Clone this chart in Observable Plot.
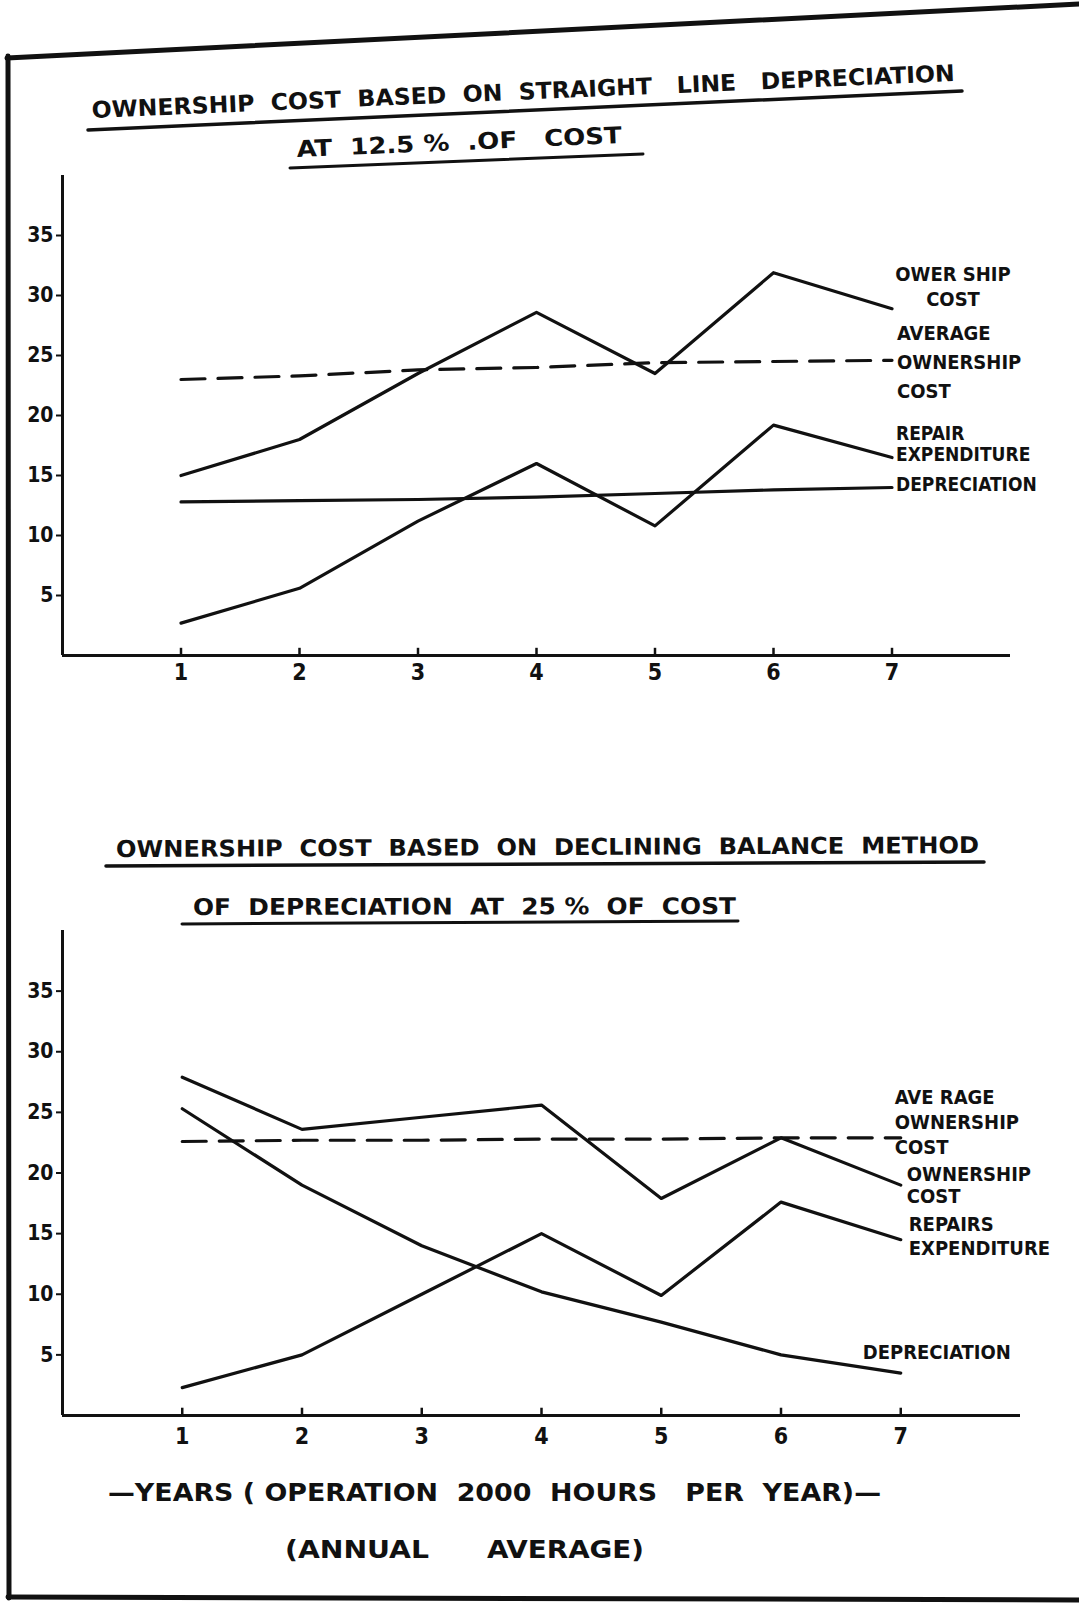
<!DOCTYPE html>
<html><head><meta charset="utf-8">
<script src="https://cdn.jsdelivr.net/npm/d3@7"></script>
<script src="https://cdn.jsdelivr.net/npm/@observablehq/plot@0.6"></script>
<style>
html,body{margin:0;padding:0;background:#fff;}
#page{position:relative;width:1079px;height:1607px;overflow:hidden;background:#fff;}
.plot{position:absolute;left:0;}
#deco{position:absolute;left:0;top:0;}
</style></head><body><div id="page"></div>
<script>
// ---------- data ----------
const years = [1, 2, 3, 4, 5, 6, 7];
const xTicks = [1, 2, 3, 4, 5, 6, 7];
const yTicks = [5, 10, 15, 20, 25, 30, 35];

// Straight line depreciation at 12.5 % of cost
const slOwnership    = [15.0, 18.0, 23.5, 28.6, 23.5, 31.9, 28.9];
const slAverage      = [23.0, 23.3, 23.8, 24.0, 24.4, 24.5, 24.6];
const slRepair       = [2.7, 5.6, 11.2, 16.0, 10.8, 19.2, 16.5];
const slDepreciation = [12.8, 12.9, 13.0, 13.2, 13.5, 13.8, 14.0];

// Declining balance method at 25 % of cost
const dbOwnership    = [27.9, 23.6, 24.6, 25.6, 17.9, 22.9, 19.0];
const dbAverage      = [22.6, 22.7, 22.7, 22.8, 22.8, 22.9, 22.9];
const dbRepairs      = [2.3, 5.0, 10.0, 15.0, 9.9, 17.6, 14.5];
const dbDepreciation = [25.3, 19.0, 14.0, 10.2, 7.7, 5.0, 3.5];

// texts
const title1a = "OWNERSHIP  COST  BASED  ON  STRAIGHT   LINE   DEPRECIATION";
const title1b = "AT  12.5 %  .OF   COST";
const title2a = "OWNERSHIP  COST  BASED  ON  DECLINING  BALANCE  METHOD";
const title2b = "OF  DEPRECIATION  AT  25 %  OF  COST";
const footer1 = "—YEARS ( OPERATION  2000  HOURS   PER  YEAR)—";
const footer2a = "(ANNUAL";
const footer2b = "AVERAGE)";

const rows = vals => years.map((year, i) => ({year, value: vals[i]}));
const last = vals => rows(vals).slice(-1);

const FONT = "'DejaVu Sans Condensed','DejaVu Sans',sans-serif";
const INK = "#111";

function label(vals, txt, o) {
  return Plot.text(last(vals), {
    x: "year", y: "value", text: () => txt,
    fill: INK, fontSize: 20, fontWeight: "bold",
    lineAnchor: "middle", ...o
  });
}

function chart({series, labels, marginTop, marginRight, tickPadding}) {
  return Plot.plot({
    width: 1079, height: 700,
    marginLeft: 62, marginRight, marginTop, marginBottom: 45,
    x: {domain: [0, 8], label: null},
    y: {domain: [0, 40], label: null},
    style: {fontFamily: FONT, fontWeight: "bold", color: INK, background: "transparent", overflow: "visible"},
    marks: [
      Plot.ruleY([0], {stroke: INK, strokeWidth: 3}),
      Plot.ruleX([0], {stroke: INK, strokeWidth: 3}),
      Plot.ruleX(xTicks, {x: d => d, y1: 0, y2: 0.6, stroke: INK, strokeWidth: 2.5}),
      Plot.axisX(xTicks, {tickSize: 0, tickPadding, tickFormat: d => String(d), fontSize: 23, fontWeight: "bold", fill: INK}),
      Plot.axisY(yTicks, {tickSize: 6, tickPadding: 3, tickFormat: d => String(d), fontSize: 21, fontWeight: "bold", fill: INK, stroke: INK, strokeWidth: 2}),
      ...series.map(s => Plot.line(rows(s.vals), {
        x: "year", y: "value", stroke: INK, strokeWidth: 3.2,
        strokeDasharray: s.dashed ? "24,13" : null, strokeLinejoin: "round"
      })),
      ...labels
    ]
  });
}

const page = document.getElementById("page");

const top1 = chart({
  marginTop: 175, marginRight: 69, tickPadding: 8,
  series: [
    {vals: slOwnership}, {vals: slAverage, dashed: true},
    {vals: slRepair}, {vals: slDepreciation}
  ],
  labels: [
    label(slOwnership, "OWER SHIP\nCOST", {dx: 61, dy: -23, textAnchor: "middle", lineHeight: 1.25}),
    label(slAverage, "AVERAGE\nOWNERSHIP\nCOST", {dx: 5, dy: -1, textAnchor: "start", lineHeight: 1.45}),
    label(slRepair, "REPAIR\nEXPENDITURE", {dx: 4, dy: -14, textAnchor: "start", lineHeight: 1.1, fontSize: 19}),
    label(slDepreciation, "DEPRECIATION", {dx: 4, dy: -3, textAnchor: "start", fontSize: 19})
  ]
});
top1.classList.add("plot");
top1.style.top = "0px";
page.appendChild(top1);

const bot = chart({
  marginTop: 170, marginRight: 59, tickPadding: 12,
  series: [
    {vals: dbOwnership}, {vals: dbAverage, dashed: true},
    {vals: dbRepairs}, {vals: dbDepreciation}
  ],
  labels: [
    label(dbAverage, "AVE RAGE\nOWNERSHIP\nCOST", {dx: -6, dy: -17, textAnchor: "start", lineHeight: 1.25}),
    label(dbOwnership, "OWNERSHIP\nCOST", {dx: 6, dy: 0, textAnchor: "start", lineHeight: 1.1}),
    label(dbRepairs, "REPAIRS\nEXPENDITURE", {dx: 8, dy: -4, textAnchor: "start", lineHeight: 1.2}),
    label(dbDepreciation, "DEPRECIATION", {dx: -38, dy: -20, textAnchor: "start"})
  ]
});
bot.classList.add("plot");
bot.style.top = "760px";
page.appendChild(bot);

// ---------- frame, titles, footer ----------
function slantText(txt, x1, y1, x2, y2, size) {
  const len = Math.hypot(x2 - x1, y2 - y1);
  const ang = Math.atan2(y2 - y1, x2 - x1) * 180 / Math.PI;
  return `<text x="${x1}" y="${y1}" transform="rotate(${ang} ${x1} ${y1})" textLength="${len}" lengthAdjust="spacingAndGlyphs" font-size="${size}" xml:space="preserve">${txt}</text>`;
}
const deco = `
<svg id="deco" width="1079" height="1607" xmlns="http://www.w3.org/2000/svg" font-family="${FONT.replace(/'/g, "&quot;")}" font-weight="bold" fill="${INK}">
  <g stroke="${INK}" fill="none" stroke-linecap="round">
    <line x1="7" y1="58" x2="1079" y2="4" stroke-width="5"/>
    <line x1="8" y1="56" x2="9" y2="1598" stroke-width="5"/>
    <line x1="8" y1="1597" x2="1079" y2="1600" stroke-width="5"/>
    <line x1="88" y1="130" x2="962" y2="91" stroke-width="3.5"/>
    <line x1="290" y1="168" x2="643" y2="154" stroke-width="3"/>
    <line x1="106" y1="866" x2="984" y2="862" stroke-width="3.5"/>
    <line x1="182" y1="924" x2="738" y2="921" stroke-width="3"/>
  </g>
  ${slantText(title1a, 92, 118, 955, 81, 23)}
  ${slantText(title1b, 297, 157, 622, 143, 23)}
  ${slantText(title2a, 116, 857, 979, 853, 23)}
  ${slantText(title2b, 193, 915, 736, 914, 23)}
  ${slantText(footer1, 108, 1501, 881, 1501, 25)}
  ${slantText(footer2a, 285, 1558, 429, 1558, 25)}
  ${slantText(footer2b, 487, 1558, 644, 1558, 25)}
</svg>`;
page.insertAdjacentHTML("beforeend", deco);
</script>
</body></html>
